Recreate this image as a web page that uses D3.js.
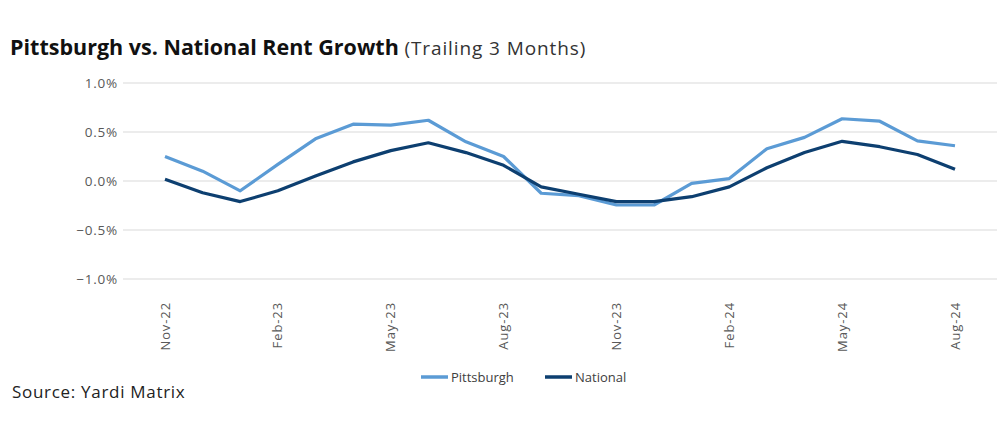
<!DOCTYPE html>
<html>
<head>
<meta charset="utf-8">
<script src="https://cdn.jsdelivr.net/npm/d3@7"></script>
<style>
    body { margin: 0; background: #fff; }
    svg { font-family: "Open Sans", Lato, sans-serif; }
</style>
</head>
<body>
<svg width="1007" height="433"></svg>
<script>
// monthly labels, Nov-22 .. Aug-24
const months = ["Nov-22", "Dec-22", "Jan-23", "Feb-23", "Mar-23", "Apr-23", "May-23", "Jun-23",
    "Jul-23", "Aug-23", "Sep-23", "Oct-23", "Nov-23", "Dec-23", "Jan-24", "Feb-24",
    "Mar-24", "Apr-24", "May-24", "Jun-24", "Jul-24", "Aug-24"];
const tickLabels = ["Nov-22", "Feb-23", "May-23", "Aug-23", "Nov-23", "Feb-24", "May-24", "Aug-24"];
const yTicks = [-0.01, -0.005, 0, 0.005, 0.01];

const pittsburgh = [0.25, 0.10, -0.10, 0.17, 0.43, 0.58, 0.57, 0.62, 0.40, 0.25, -0.125,
    -0.15, -0.245, -0.245, -0.025, 0.025, 0.33, 0.445, 0.635, 0.61, 0.41, 0.36];
const national = [0.017, -0.12, -0.21, -0.10, 0.05, 0.195, 0.31, 0.39, 0.29, 0.16, -0.06,
    -0.135, -0.21, -0.21, -0.16, -0.06, 0.135, 0.29, 0.405, 0.35, 0.27, 0.12];

const series = [
    { name: "Pittsburgh", values: pittsburgh, color: "#5b9bd5" },
    { name: "National", values: national, color: "#0d3f70" }
];

const svg = d3.select("svg");

const x = d3.scalePoint()
    .domain(months)
    .range([165, 955]);

const y = d3.scaleLinear()
    .domain([-0.01, 0.01])
    .range([279, 83]);

// gridlines
svg.append("g")
    .selectAll("line")
    .data(yTicks)
    .enter().append("line")
    .attr("x1", 123)
    .attr("x2", 997)
    .attr("y1", d => y(d))
    .attr("y2", d => y(d))
    .style("stroke", "#e6e6e6")
    .style("stroke-width", 1.3);

// y labels
svg.append("g")
    .selectAll("text")
    .data(yTicks)
    .enter().append("text")
    .attr("x", 118)
    .attr("y", d => y(d))
    .attr("dy", "0.35em")
    .attr("text-anchor", "end")
    .style("font-size", "13.5px")
    .style("letter-spacing", "0.8px")
    .style("fill", "#595959")
    .text(d => d3.format(".1%")(d));

// x labels, rotated
svg.append("g")
    .selectAll("text")
    .data(tickLabels)
    .enter().append("text")
    .attr("transform", d => `translate(${x(d)},302) rotate(-90)`)
    .attr("dy", "0.35em")
    .attr("text-anchor", "end")
    .style("font-size", "13px")
    .style("letter-spacing", "0.9px")
    .style("fill", "#595959")
    .text(d => d);

const line = d3.line()
    .x((d, i) => x(months[i]))
    .y(d => y(d / 100));

svg.append("g")
    .selectAll("path")
    .data(series)
    .enter().append("path")
    .attr("d", d => line(d.values))
    .style("fill", "none")
    .style("stroke", d => d.color)
    .style("stroke-width", 3.2)
    .style("stroke-linejoin", "round");

// legend
const legendX = [421, 545];
const legend = svg.append("g")
    .selectAll("g")
    .data(series)
    .enter().append("g")
    .attr("transform", (d, i) => `translate(${legendX[i]},377)`);

legend.append("line")
    .attr("x1", 0)
    .attr("x2", 27)
    .style("stroke", d => d.color)
    .style("stroke-width", 3.5);

legend.append("text")
    .attr("x", 30)
    .attr("dy", "0.35em")
    .style("font-size", "13px")
    .style("fill", "#404040")
    .text(d => d.name);

// title
const title = svg.append("text")
    .attr("x", 10)
    .attr("y", 55)
    .style("fill", "#111");
title.append("tspan")
    .style("font-size", "21.5px")
    .style("font-weight", "bold")
    .text("Pittsburgh vs. National Rent Growth ");
title.append("tspan")
    .style("font-size", "19px")
    .style("letter-spacing", "0.9px")
    .style("fill", "#333")
    .text("(Trailing 3 Months)");

svg.append("text")
    .attr("x", 12)
    .attr("y", 398)
    .style("font-size", "17px")
    .style("letter-spacing", "0.7px")
    .style("fill", "#222")
    .text("Source: Yardi Matrix");
</script>
</body>
</html>
